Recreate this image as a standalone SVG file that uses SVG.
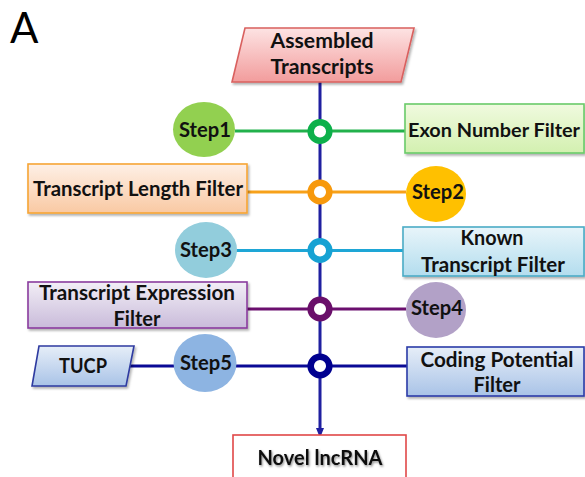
<svg xmlns="http://www.w3.org/2000/svg" width="585" height="477" viewBox="0 0 585 477">
<defs>
<style>
.lbl{font-family:Lato,"Liberation Sans",sans-serif;font-weight:bold;font-size:21.5px;fill:#111;text-anchor:middle}
.big{font-family:Lato,"Liberation Sans",sans-serif;font-size:42px;fill:#000}
.ring{fill:#fff;stroke-width:6.5}
.box{stroke-width:1.6}
.ln{stroke-width:3;fill:none}
</style>
<filter id="sh" x="-10%" y="-10%" width="125%" height="140%">
<feDropShadow dx="1.5" dy="2" stdDeviation="1.2" flood-color="#000" flood-opacity="0.3"/>
</filter>
<filter id="tsh" x="-10%" y="-20%" width="125%" height="150%">
<feDropShadow dx="1" dy="1.5" stdDeviation="1" flood-color="#000" flood-opacity="0.45"/>
</filter>
<linearGradient id="gRed" x1="0" y1="0" x2="0" y2="1"><stop offset="0" stop-color="#FDE3E3"/><stop offset="1" stop-color="#F29C9C"/></linearGradient>
<linearGradient id="gGreen" x1="0" y1="0" x2="0" y2="1"><stop offset="0" stop-color="#F0FADF"/><stop offset="1" stop-color="#D3F0B0"/></linearGradient>
<linearGradient id="gOrange" x1="0" y1="0" x2="0" y2="1"><stop offset="0" stop-color="#FEF0E6"/><stop offset="1" stop-color="#F9C9A3"/></linearGradient>
<linearGradient id="gCyan" x1="0" y1="0" x2="0" y2="1"><stop offset="0" stop-color="#E8F5FA"/><stop offset="1" stop-color="#B3DDEE"/></linearGradient>
<linearGradient id="gPurple" x1="0" y1="0" x2="0" y2="1"><stop offset="0" stop-color="#F2EEF6"/><stop offset="1" stop-color="#C9BBDA"/></linearGradient>
<linearGradient id="gBlue" x1="0" y1="0" x2="0" y2="1"><stop offset="0" stop-color="#E6EEF8"/><stop offset="1" stop-color="#A9C3E7"/></linearGradient>
<marker id="arr" markerWidth="10" markerHeight="10" refX="5" refY="5" orient="auto" markerUnits="userSpaceOnUse" viewBox="0 0 10 10">
<path d="M0,1 L10,5 L0,9 Z" fill="#1F1FA0"/>
</marker>
</defs>
<rect width="585" height="477" fill="#fff"/>
<text class="big" x="10" y="43">A</text>

<g id="connectors">
<line class="ln" x1="320" y1="82" x2="320" y2="433" stroke="#1F1FA0" stroke-width="2.5" marker-end="url(#arr)"/>
<line class="ln" x1="235" y1="131" x2="405" y2="131" stroke="#22B14C"/>
<line class="ln" x1="247" y1="192" x2="406" y2="192" stroke="#F7A11A"/>
<line class="ln" x1="236" y1="250.5" x2="403" y2="250.5" stroke="#1EA6D6"/>
<line class="ln" x1="247" y1="309" x2="406" y2="309" stroke="#6B0F6E"/>
<line class="ln" x1="130" y1="366" x2="407" y2="366" stroke="#0A0A96"/>
</g>

<g id="n-assembled">
<polygon points="245,28 414,28 401,82 232,82" fill="url(#gRed)" stroke="#D9605E" class="box" filter="url(#sh)"/>
<text class="lbl" x="322" y="48" textLength="103" lengthAdjust="spacingAndGlyphs">Assembled</text>
<text class="lbl" x="322" y="74" textLength="103" lengthAdjust="spacingAndGlyphs">Transcripts</text>
</g>

<g id="n-step1">
<ellipse cx="204" cy="129.5" rx="31" ry="27.5" fill="#92D050"/>
<text class="lbl" x="205" y="137" textLength="52" lengthAdjust="spacingAndGlyphs">Step1</text>
</g>
<g id="n-ring1"><circle class="ring" cx="320" cy="131.5" r="9.3" stroke="#0DB04B"/></g>
<g id="n-exon">
<rect x="405" y="104" width="179" height="49" fill="url(#gGreen)" stroke="#6ACB6A" class="box" filter="url(#sh)"/>
<text class="lbl" x="494" y="136.5" style="font-size:19.5px" textLength="172" lengthAdjust="spacingAndGlyphs">Exon Number Filter</text>
</g>

<g id="n-length">
<rect x="28" y="164" width="219" height="49" fill="url(#gOrange)" stroke="#F7A535" class="box" filter="url(#sh)"/>
<text class="lbl" x="138" y="196" textLength="210" lengthAdjust="spacingAndGlyphs">Transcript Length Filter</text>
</g>
<g id="n-ring2"><circle class="ring" cx="320" cy="192" r="9.3" stroke="#F7990C"/></g>
<g id="n-step2">
<ellipse cx="436" cy="194" rx="30" ry="28" fill="#FFC000"/>
<text class="lbl" x="438" y="199" textLength="52" lengthAdjust="spacingAndGlyphs">Step2</text>
</g>

<g id="n-step3">
<ellipse cx="206" cy="250" rx="31" ry="28" fill="#92CDDC"/>
<text class="lbl" x="206" y="257" textLength="52" lengthAdjust="spacingAndGlyphs">Step3</text>
</g>
<g id="n-ring3"><circle class="ring" cx="320" cy="250.5" r="9.3" stroke="#17A2D3"/></g>
<g id="n-known">
<rect x="403" y="227" width="181" height="49" fill="url(#gCyan)" stroke="#4BACC6" class="box" filter="url(#sh)"/>
<text class="lbl" x="492" y="245" textLength="63" lengthAdjust="spacingAndGlyphs">Known</text>
<text class="lbl" x="493" y="272" textLength="144" lengthAdjust="spacingAndGlyphs">Transcript Filter</text>
</g>

<g id="n-expression">
<rect x="28" y="282" width="219" height="46" fill="url(#gPurple)" stroke="#8A3C9E" class="box" filter="url(#sh)"/>
<text class="lbl" x="137" y="300" textLength="196" lengthAdjust="spacingAndGlyphs">Transcript Expression</text>
<text class="lbl" x="137" y="326" textLength="47" lengthAdjust="spacingAndGlyphs">Filter</text>
</g>
<g id="n-ring4"><circle class="ring" cx="320" cy="309" r="9.3" stroke="#6A0F6A"/></g>
<g id="n-step4">
<ellipse cx="436" cy="310" rx="30" ry="28" fill="#B2A1C7"/>
<text class="lbl" x="437" y="315" textLength="52" lengthAdjust="spacingAndGlyphs">Step4</text>
</g>

<g id="n-tucp">
<polygon points="39,346 134,346 126,386 32,386" fill="url(#gBlue)" stroke="#2E3AA0" class="box" filter="url(#sh)"/>
<text class="lbl" x="83" y="373" textLength="48" lengthAdjust="spacingAndGlyphs">TUCP</text>
</g>
<g id="n-step5">
<ellipse cx="205" cy="363" rx="31.5" ry="29" fill="#8DB4E2"/>
<text class="lbl" x="206" y="370" textLength="52" lengthAdjust="spacingAndGlyphs">Step5</text>
</g>
<g id="n-ring5"><circle class="ring" cx="320" cy="366" r="9.3" stroke="#00008F"/></g>
<g id="n-coding">
<rect x="407" y="347" width="177" height="49" fill="url(#gBlue)" stroke="#2B3BA8" class="box" filter="url(#sh)"/>
<text class="lbl" x="497" y="367" textLength="153" lengthAdjust="spacingAndGlyphs">Coding Potential</text>
<text class="lbl" x="497" y="392" textLength="47" lengthAdjust="spacingAndGlyphs">Filter</text>
</g>

<g id="n-novel">
<rect x="233" y="435" width="173" height="60" fill="#fff" stroke="#E04848" class="box"/>
<text class="lbl" x="320" y="465" textLength="125" lengthAdjust="spacingAndGlyphs" filter="url(#tsh)">Novel lncRNA</text>
</g>
</svg>
